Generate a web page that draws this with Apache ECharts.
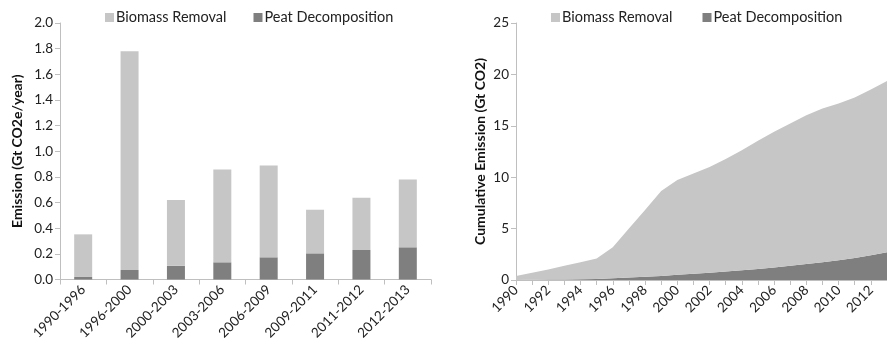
<!DOCTYPE html>
<html><head><meta charset="utf-8">
<script src="https://cdn.jsdelivr.net/npm/echarts@6/dist/echarts.min.js"></script>
<style>html,body{margin:0;padding:0;background:#fff}#c{width:887px;height:344px}</style>
</head><body><div id="c"></div>
<script>
const periods = ['1990-1996','1996-2000','2000-2003','2003-2006','2006-2009','2009-2011','2011-2012','2012-2013'];
const peatRate = [0.02, 0.074, 0.107, 0.134, 0.173, 0.204, 0.23, 0.251];
const biomassRate = [0.332, 1.706, 0.512, 0.724, 0.716, 0.34, 0.407, 0.529];

const years = ['1990','1991','1992','1993','1994','1995','1996','1997','1998','1999','2000','2001','2002','2003','2004','2005','2006','2007','2008','2009','2010','2011','2012','2013'];
const peatCum = [0.0,0.02,0.04,0.06,0.08,0.1,0.17,0.25,0.32,0.4,0.5,0.6,0.7,0.82,0.95,1.08,1.22,1.38,1.55,1.73,1.93,2.15,2.4,2.7];
const totalCum = [0.39,0.7,1.03,1.39,1.72,2.1,3.18,5.0,6.8,8.65,9.72,10.37,11.0,11.76,12.63,13.54,14.41,15.23,16.03,16.68,17.17,17.76,18.53,19.37];
const biomassCum = totalCum.map((t,i)=>+(t-peatCum[i]).toFixed(3));

const LIGHT = '#c6c6c6', DARK = '#7f7f7f', AX = '#bfbfbf';
const FONT = 'Lato';
const tickLbl = {color:'#222', fontSize:13.5, fontFamily:FONT};
const nameStyle = {fontSize:14, fontWeight:'bold', color:'#111', fontFamily:FONT};
const legendText = {fontSize:14.5, color:'#222', fontFamily:FONT, padding:[0,0,0,-3]};
const chart = echarts.init(document.getElementById('c'));
chart.setOption({
  animation:false,
  textStyle:{fontFamily:FONT},
  legend:[
    {left:100, top:5, itemWidth:9, itemHeight:9, itemGap:27, icon:'rect',
     textStyle:legendText, data:['Biomass Removal','Peat Decomposition'], selectedMode:false},
    {left:546, top:5, itemWidth:9, itemHeight:9, itemGap:30, icon:'rect',
     textStyle:legendText, data:['Biomass Removal','Peat Decomposition'], selectedMode:false}
  ],
  grid:[
    {left:60, top:23, width:371, bottom:64.5},
    {left:516, top:23, width:372, bottom:64}
  ],
  xAxis:[
    {type:'category', gridIndex:0, data:periods,
     axisLine:{lineStyle:{color:AX}}, axisTick:{show:true, length:5, lineStyle:{color:AX}},
     axisLabel:Object.assign({rotate:45, margin:8, interval:0}, tickLbl)},
    {type:'category', gridIndex:1, data:years, boundaryGap:false,
     axisLine:{lineStyle:{color:AX}}, axisTick:{show:true, interval:0, length:5, lineStyle:{color:AX}},
     axisLabel:Object.assign({rotate:45, margin:8, interval:1}, tickLbl)}
  ],
  yAxis:[
    {type:'value', gridIndex:0, min:0, max:2, interval:0.2,
     name:'Emission (Gt CO2e/year)', nameLocation:'middle', nameGap:36,
     nameTextStyle:nameStyle,
     axisLine:{show:true, lineStyle:{color:AX}}, axisTick:{show:true, length:5, lineStyle:{color:AX}},
     splitLine:{show:false},
     axisLabel:Object.assign({formatter:v=>v.toFixed(1), margin:7}, tickLbl)},
    {type:'value', gridIndex:1, min:0, max:25, interval:5,
     name:'Cumulative Emission (Gt CO2)', nameLocation:'middle', nameGap:29,
     nameTextStyle:nameStyle,
     axisLine:{show:true, lineStyle:{color:AX}}, axisTick:{show:true, length:5, lineStyle:{color:AX}},
     splitLine:{show:false},
     axisLabel:Object.assign({margin:7}, tickLbl)}
  ],
  series:[
    {name:'Peat Decomposition', type:'bar', stack:'a', xAxisIndex:0, yAxisIndex:0,
     data:peatRate, barWidth:18, itemStyle:{color:DARK}},
    {name:'Biomass Removal', type:'bar', stack:'a', xAxisIndex:0, yAxisIndex:0,
     data:biomassRate, barWidth:18, itemStyle:{color:LIGHT}},
    {name:'Peat Decomposition', type:'line', stack:'b', xAxisIndex:1, yAxisIndex:1,
     data:peatCum, symbol:'none', lineStyle:{width:0}, areaStyle:{color:DARK, opacity:1}, itemStyle:{color:DARK}},
    {name:'Biomass Removal', type:'line', stack:'b', xAxisIndex:1, yAxisIndex:1,
     data:biomassCum, symbol:'none', lineStyle:{width:0}, areaStyle:{color:LIGHT, opacity:1}, itemStyle:{color:LIGHT}}
  ]
});
</script></body></html>
